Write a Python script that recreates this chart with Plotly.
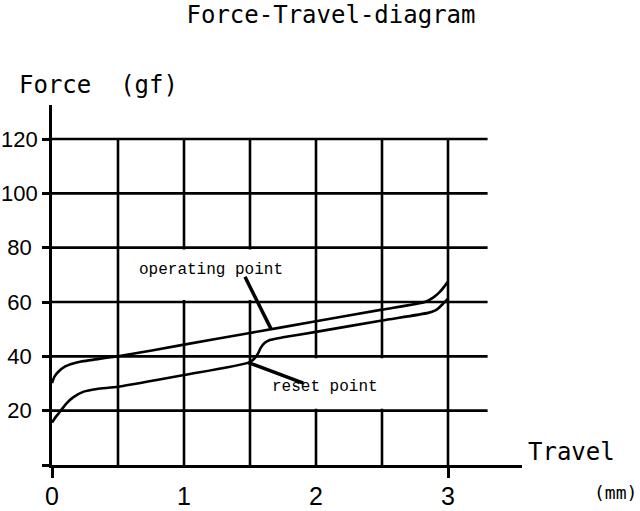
import plotly.graph_objects as go

# ---- data ----
op_x = [0, 0.02, 0.05, 0.1, 0.16, 0.22, 0.29, 0.5, 1.0, 1.5, 2.0, 2.5, 2.83, 2.89, 2.94, 2.975, 3.0]
op_y = [30.2, 32.6, 34.4, 36.3, 37.4, 38.1, 38.6, 40.0, 44.3, 48.6, 52.9, 57.2, 60.1, 61.7, 63.8, 65.9, 67.5]

rs_x = [0, 0.03, 0.06, 0.11, 0.16, 0.24, 0.34, 0.5, 1.0, 1.49, 1.53, 1.56, 1.58, 1.61, 1.65, 1.75, 2.0, 2.5,
        2.85, 2.9, 2.93, 2.965, 3.0]
rs_y = [15.6, 17.8, 19.6, 22.7, 24.9, 27.0, 28.0, 28.8, 33.1, 37.7, 39.0, 41.0, 43.0, 44.9, 46.0, 47.0, 49.0, 53.2,
        56.0, 56.8, 57.8, 59.5, 61.2]

grid_x = [0.5, 1.0, 1.5, 2.0, 2.5, 3.0]
grid_y = [20, 40, 60, 80, 100, 120]
grid_x_end = 3.30
grid_y_end = 120

x_ticks = [0, 1, 2, 3]
x_ticktext = ["0", "1", "2", "3"]
x_marks = [0, 3]
y_ticks = [0, 20, 40, 60, 80, 100, 120]
y_ticktext = ["", "20\u00a0", "40\u00a0", "60\u00a0", "80\u00a0", "100", "120"]

# annotation leader lines (from label to curve)
op_leader = ([1.462, 1.659], [69.3, 50.1])
rs_leader = ([1.487, 1.904], [37.7, 30.1])
op_label = ("operating point", 1.205, 71.8)
rs_label = ("reset point", 2.068, 28.7)
op_box = (0.6, 1.9, 60.7, 79.3)
rs_box = (1.6, 2.9, 20.7, 39.3)

BLK = "black"
LW = 2.6

fig = go.Figure()

fig.add_trace(go.Scatter(x=op_x, y=op_y, mode="lines", line=dict(color=BLK, width=2.6, shape="spline", smoothing=0.6),
                         hoverinfo="skip", showlegend=False))
fig.add_trace(go.Scatter(x=rs_x, y=rs_y, mode="lines", line=dict(color=BLK, width=2.6, shape="spline", smoothing=0.6),
                         hoverinfo="skip", showlegend=False))
fig.add_trace(go.Scatter(x=op_leader[0], y=op_leader[1], mode="lines", line=dict(color=BLK, width=3.5),
                         hoverinfo="skip", showlegend=False))
fig.add_trace(go.Scatter(x=rs_leader[0], y=rs_leader[1], mode="lines", line=dict(color=BLK, width=3.5),
                         hoverinfo="skip", showlegend=False))

shapes = []
for gx in grid_x:
    shapes.append(dict(type="line", xref="x", yref="y", x0=gx, x1=gx, y0=0, y1=grid_y_end,
                       line=dict(color=BLK, width=LW), layer="below"))
for gy in grid_y:
    shapes.append(dict(type="line", xref="x", yref="y", x0=0, x1=grid_x_end, y0=gy, y1=gy,
                       line=dict(color=BLK, width=LW), layer="below"))
for b in (op_box, rs_box):
    shapes.append(dict(type="rect", xref="x", yref="y", x0=b[0], x1=b[1], y0=b[2], y1=b[3],
                       fillcolor="white", line=dict(width=0), layer="below"))

annotations = [
    dict(text=op_label[0], x=op_label[1], y=op_label[2], xref="x", yref="y", showarrow=False,
         font=dict(family="Liberation Mono", size=16, color=BLK)),
    dict(text=rs_label[0], x=rs_label[1], y=rs_label[2], xref="x", yref="y", showarrow=False,
         font=dict(family="Liberation Mono", size=16, color=BLK)),
    dict(text="Force  (gf)", x=-0.0745, y=1.0556, xref="paper", yref="paper", xanchor="left", yanchor="middle",
         showarrow=False, font=dict(family="DejaVu Sans Mono", size=24, color=BLK)),
    dict(text="Travel", x=1.0085, y=0.037, xref="paper", yref="paper", xanchor="left", yanchor="middle",
         showarrow=False, font=dict(family="DejaVu Sans Mono", size=24, color=BLK)),
    dict(text="(mm)", x=1.149, y=-0.075, xref="paper", yref="paper", xanchor="left", yanchor="middle",
         showarrow=False, font=dict(family="DejaVu Sans Mono", size=18, color=BLK)),
]

fig.update_layout(
    width=640, height=511,
    margin=dict(l=52, r=118, t=105, b=46),
    paper_bgcolor="white", plot_bgcolor="white",
    title=dict(text="Force-Travel-diagram", x=331 / 640, xanchor="center", y=1 - 15 / 511, yanchor="middle",
               font=dict(family="DejaVu Sans Mono", size=24, color=BLK)),
    shapes=shapes, annotations=annotations,
    xaxis=dict(range=[0, 470 / 132], showgrid=False, zeroline=False, showline=True, linecolor=BLK, linewidth=LW,
               tickmode="array", tickvals=x_ticks, ticktext=x_ticktext, ticks="outside", ticklen=7,
               tickcolor="rgba(0,0,0,0)", ticklabelstandoff=0, automargin=False,
               tickfont=dict(family="Liberation Sans", size=25, color=BLK),
               minor=dict(tickmode="array", tickvals=x_marks, ticks="outside", ticklen=10, tickwidth=LW,
                          tickcolor=BLK, showgrid=False),
               fixedrange=True),
    yaxis=dict(range=[0, 360 / (326 / 120)], showgrid=False, zeroline=False, showline=True, linecolor=BLK,
               linewidth=LW, tickmode="array", tickvals=y_ticks, ticktext=y_ticktext, ticks="outside", ticklen=7,
               tickwidth=LW, tickcolor=BLK, tickfont=dict(family="Liberation Sans", size=22, color=BLK),
               automargin=False, fixedrange=True),
)

fig.write_html("out.html", config={"displayModeBar": False},
               post_script="document.body.style.margin='0';")
